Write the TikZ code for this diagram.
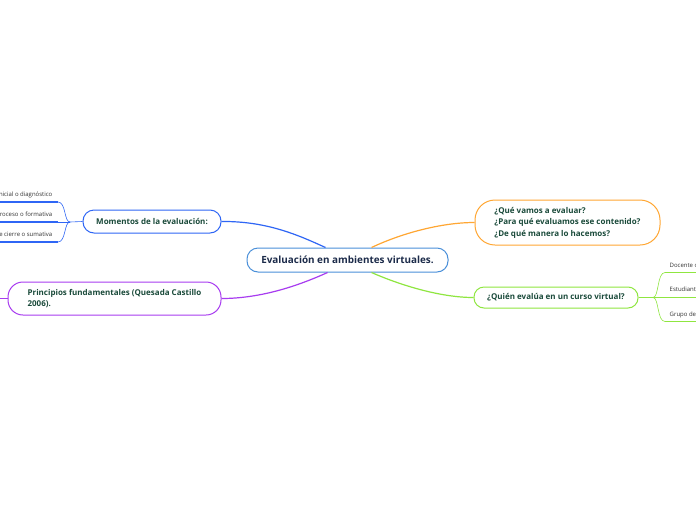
\documentclass[tikz,border=0pt]{standalone}
\usepackage{fontspec}
\setmainfont{Open Sans}
\usetikzlibrary{calc}
\definecolor{cblue}{HTML}{2F66F5}
\definecolor{ccenter}{HTML}{4A90D9}
\definecolor{corange}{HTML}{FFA733}
\definecolor{cgreen}{HTML}{8FE640}
\definecolor{cpurple}{HTML}{A83CF0}
\definecolor{tgreen}{HTML}{1A4A3A}
\definecolor{tnavy}{HTML}{1C2B4A}
\definecolor{tgray}{HTML}{333333}
\tikzset{
  topic/.style={draw, line width=1pt, fill=white, inner sep=0pt, align=left,
    font=\bfseries\fontsize{8}{11.6}\selectfont, text=tgreen},
  central/.style={draw=ccenter, line width=1pt, fill=white, inner sep=0pt,
    rounded corners=11pt, minimum width=201pt, minimum height=24pt,
    font=\bfseries\fontsize{9.9}{12}\selectfont, text=tnavy},
  conn/.style={line width=1.2pt},
  subline/.style={line width=1.6pt},
  subcurve/.style={line width=0.6pt},
  sublabel/.style={inner sep=0pt, font=\fontsize{6}{7}\selectfont, text=tgray}
}
\begin{document}
\begin{tikzpicture}[x=1pt,y=-1pt]
\useasboundingbox (0,0) rectangle (696,520);
\clip (0,0) rectangle (696,520);
\fill[white] (0,0) rectangle (696,520);

% nodes
\node[central] (c) at (347.5,260) {Evaluación en ambientes virtuales.};
\node[topic, draw=cblue, rounded corners=11pt, minimum width=138pt, minimum height=23pt] (m) at (152,221.5) {Momentos de la evaluación:};
\node[topic, draw=corange, rounded corners=20pt, minimum width=185pt, minimum height=45pt] (o) at (567.5,222.5) {¿Qué vamos a evaluar?\\¿Para qué evaluamos ese contenido?\\¿De qué manera lo hacemos?};
\node[topic, draw=cgreen, rounded corners=10pt, minimum width=164pt, minimum height=21pt] (g) at (556,297.5) {¿Quién evalúa en un curso virtual?};
\node[topic, draw=cpurple, rounded corners=15pt, minimum width=213pt, minimum height=33pt] (p) at (114.5,298.5) {Principios fundamentales (Quesada Castillo\\2006).};

% anchor points on central node
\coordinate (ctl) at ($(c.north)+(-22,0)$);
\coordinate (ctr) at ($(c.north)+(24,0)$);
\coordinate (cbl) at ($(c.south)+(-20,0)$);
\coordinate (cbr) at ($(c.south)+(24,0)$);

% main connectors
\draw[conn, cblue] (m.east) .. controls (268,221) and (300,236) .. (ctl);
\draw[conn, corange] (ctr) .. controls (400,234) and (440,222.5) .. (o.west);
\draw[conn, cpurple] (cbl) .. controls (300,285) and (262,298.5) .. (p.east);
\draw[conn, cgreen] (cbr) .. controls (400,285) and (440,297.5) .. (g.west);

% purple off-screen child
\coordinate (pl) at (0,298.5);
\draw[conn, cpurple] (p.west) -- (pl);

% left subtopics of Momentos
\coordinate (mj) at (70,222);
\coordinate (l1e) at (58,202);
\coordinate (l2e) at (58,222);
\coordinate (l3e) at (58,242);
\coordinate (l1s) at (0,202);
\coordinate (l2s) at (0,222);
\coordinate (l3s) at (0,242);
\draw[subcurve, cblue] (m.west) -- (mj);
\draw[subcurve, cblue] (mj) .. controls (64,222) and (66,202) .. (l1e);
\draw[subcurve, cblue] (mj) -- (l2e);
\draw[subcurve, cblue] (mj) .. controls (64,222) and (66,242) .. (l3e);
\draw[subline, cblue] (l1s) -- (l1e);
\draw[subline, cblue] (l2s) -- (l2e);
\draw[subline, cblue] (l3s) -- (l3e);
\node[sublabel, anchor=base east] (t1) at (52.5,196.5) {Inicial o diagnóstico};
\node[sublabel, anchor=base east] (t2) at (52.5,216.5) {En proceso o formativa};
\node[sublabel, anchor=base east] (t3) at (52.5,236.5) {De cierre o sumativa};

% right subtopics of green
\coordinate (gj) at (653,297.5);
\coordinate (r1s) at (665,272.5);
\coordinate (r2s) at (665,297.5);
\coordinate (r3s) at (665,321.5);
\coordinate (r1e) at (696,272.5);
\coordinate (r2e) at (696,297.5);
\coordinate (r3e) at (696,321.5);
\draw[subcurve, cgreen] (g.east) -- (gj);
\draw[subcurve, cgreen] (gj) .. controls (659,297.5) and (657,272.5) .. (r1s);
\draw[subcurve, cgreen] (gj) -- (r2s);
\draw[subcurve, cgreen] (gj) .. controls (659,297.5) and (657,321.5) .. (r3s);
\draw[subline, cgreen] (r1s) -- (r1e);
\draw[subline, cgreen] (r2s) -- (r2e);
\draw[subline, cgreen] (r3s) -- (r3e);
\node[sublabel, anchor=base west] (u1) at (669.5,267) {Docente o};
\node[sublabel, anchor=base west] (u2) at (669.5,291.5) {Estudiante};
\node[sublabel, anchor=base west] (u3) at (669.5,316) {Grupo de};
\end{tikzpicture}
\end{document}
